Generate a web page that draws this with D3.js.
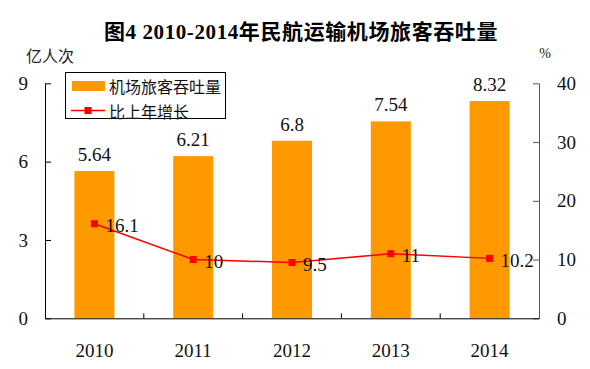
<html>
<head>
<meta charset="utf-8">
<script src="https://cdn.jsdelivr.net/npm/d3@7"></script>
<style>
  body { margin: 0; background: #fff; }
  text { font-family: "Liberation Serif", "Noto Sans CJK SC", serif; }
  .cjk { font-family: "Noto Sans CJK SC", sans-serif; }
</style>
</head>
<body>
<script>

const years = ["2010", "2011", "2012", "2013", "2014"];
const passengers = [5.64, 6.21, 6.8, 7.54, 8.32];   // 亿人次
const growth = [16.1, 10, 9.5, 11, 10.2];            // %
const leftTicks = [0, 3, 6, 9];
const rightTicks = [0, 10, 20, 30, 40];

const W = 590, H = 369;
const plotL = 45, plotR = 539, plotT = 83.3, plotB = 318.3;

const svg = d3.select('body').append('svg')
	.attr('width', W)
	.attr('height', H);

const x = d3.scaleBand().domain(years).range([plotL, plotR]);
const yL = d3.scaleLinear().domain([0, 9]).range([plotB, plotT]);
const yR = d3.scaleLinear().domain([0, 40]).range([plotB, plotT]);
const barW = x.bandwidth() * 0.405;

// title
svg.append('text')
	.attr('x', 301).attr('y', 32)
	.attr('text-anchor', 'middle')
	.attr('dominant-baseline', 'central')
	.style('font-size', '21px')
	.style('font-weight', 'bold')
	.style('letter-spacing', '0.6px')
	.text('图4 2010-2014年民航运输机场旅客吞吐量');

svg.append('text').attr('class', 'cjk')
	.attr('x', 50).attr('y', 55)
	.attr('text-anchor', 'middle').attr('dominant-baseline', 'central')
	.style('font-size', '16px').style('fill', '#222')
	.text('亿人次');

svg.append('text')
	.attr('x', 545).attr('y', 53)
	.attr('text-anchor', 'middle').attr('dominant-baseline', 'central')
	.style('font-size', '14px').style('fill', '#222')
	.text('%');

// bars
svg.selectAll('.bar')
	.data(passengers)
	.enter().append('rect')
	.attr('class', 'bar')
	.attr('x', (d, i) => x(years[i]) + (x.bandwidth() - barW) / 2)
	.attr('y', d => yL(d))
	.attr('width', barW)
	.attr('height', d => plotB - yL(d))
	.attr('fill', '#FF9900');

svg.selectAll('.barlab')
	.data(passengers)
	.enter().append('text')
	.attr('x', (d, i) => x(years[i]) + x.bandwidth() / 2)
	.attr('y', d => yL(d) - 10)
	.attr('text-anchor', 'middle')
	.style('font-size', '19px').style('fill', '#111')
	.text(d => d);

// axes
const axL = svg.append('g')
	.attr('transform', `translate(${plotL},0)`)
	.call(d3.axisLeft(yL).tickValues(leftTicks).tickSizeInner(-6).tickSizeOuter(0).tickPadding(17));

const axR = svg.append('g')
	.attr('transform', `translate(${plotR},0)`)
	.call(d3.axisRight(yR).tickValues(rightTicks).tickSizeInner(-6).tickSizeOuter(0).tickPadding(18));

const axB = svg.append('g')
	.attr('transform', `translate(0,${plotB})`)
	.call(d3.axisBottom(x).tickSize(0).tickPadding(25));

[axL, axR, axB].forEach(g => {
	g.selectAll('text').style('font-size', '19px').style('fill', '#111')
		.style('font-family', '"Liberation Serif", serif');
	g.selectAll('line, path').attr('stroke', '#000');
});
axR.selectAll('line, path').attr('stroke', '#555');

// category separator ticks
svg.selectAll('.sep')
	.data(years.slice(1))
	.enter().append('line')
	.attr('x1', d => x(d)).attr('x2', d => x(d))
	.attr('y1', plotB).attr('y2', plotB - 5)
	.attr('stroke', '#000');

// growth line
const cx = (d, i) => x(years[i]) + x.bandwidth() / 2;
svg.append('path')
	.datum(growth)
	.attr('fill', 'none')
	.attr('stroke', '#FF0000')
	.attr('stroke-width', 1.5)
	.attr('d', d3.line().x(cx).y(d => yR(d)));

svg.selectAll('.mk')
	.data(growth)
	.enter().append('rect')
	.attr('x', (d, i) => cx(d, i) - 3.5)
	.attr('y', d => yR(d) - 3.5)
	.attr('width', 7).attr('height', 7)
	.attr('fill', '#FF0000');

svg.selectAll('.glab')
	.data(growth)
	.enter().append('text')
	.attr('x', (d, i) => cx(d, i) + 11)
	.attr('y', d => yR(d) + 2)
	.attr('dominant-baseline', 'central')
	.style('font-size', '19px').style('fill', '#111')
	.text(d => d);

// legend
const lg = svg.append('g');
lg.append('rect')
	.attr('x', 65.5).attr('y', 72.5).attr('width', 160).attr('height', 46)
	.attr('fill', '#fff').attr('stroke', '#000');
lg.append('rect')
	.attr('x', 72).attr('y', 81).attr('width', 33).attr('height', 10)
	.attr('fill', '#FF9900');
lg.append('line')
	.attr('x1', 71).attr('x2', 105).attr('y1', 110.5).attr('y2', 110.5)
	.attr('stroke', '#FF0000').attr('stroke-width', 1.5);
lg.append('rect')
	.attr('x', 84.5).attr('y', 107).attr('width', 7).attr('height', 7)
	.attr('fill', '#FF0000');
lg.selectAll('.lt')
	.data(['机场旅客吞吐量', '比上年增长'])
	.enter().append('text').attr('class', 'cjk')
	.attr('x', 109).attr('y', (d, i) => 86 + i * 24.5)
	.attr('dominant-baseline', 'central')
	.style('font-size', '16px').style('fill', '#111')
	.text(d => d);

</script>
</body>
</html>
